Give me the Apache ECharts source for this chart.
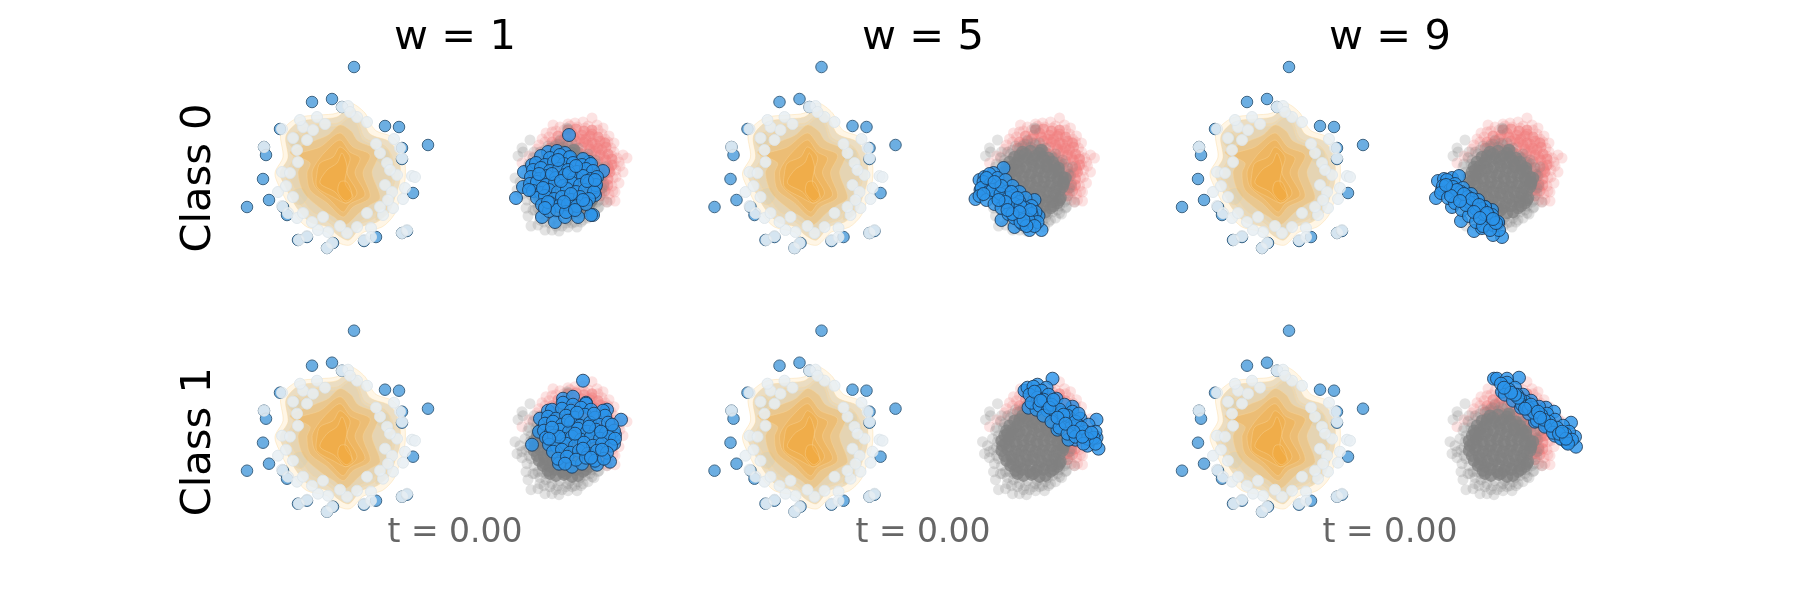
<!DOCTYPE html>
<html>
<head>
<meta charset="utf-8">
<style>html,body{margin:0;background:#fff}#main{width:1800px;height:600px}</style>
<script src="https://cdn.jsdelivr.net/npm/echarts@6/dist/echarts.min.js"></script>
</head>
<body>
<div id="main"></div>
<script>
var weights = ['w = 1', 'w = 5', 'w = 9'];
var classes = ['Class 0', 'Class 1'];
var timeLabel = 't = 0.00';

// left blob, same in all panels
var noiseBlue = [[154,203],[112,168],[132,171],[185,144],[199,143],[228,125],[80,141],[64,123],[66,115],[63,91],[69,70],[47,63],[83,63],[87,55],[98,30],[107,33],[127,22],[133,27],[164,29],[176,33],[202,37],[207,39],[213,77],[202,122],[202,111],[142,163]];
var noisePale = [[142,163],[148,164],[117,153],[167,148],[157,153],[82,141],[103,143],[113,140],[93,132],[194,131],[200,122],[64,123],[202,112],[82,98],[197,95],[212,94],[215,93],[205,82],[78,78],[203,71],[82,64],[193,62],[88,57],[97,52],[183,55],[171,42],[107,34],[128,38],[118,40],[99,30],[132,27],[127,22],[164,30],[171,33],[202,37],[207,40],[107,130],[97,120],[90,97],[93,73],[103,57],[123,53],[180,117],[187,107],[180,63],[167,57],[157,43],[147,37],[190,100],[185,85],[100,150],[125,146],[150,158],[176,126],[192,78],[86,84],[98,108],[112,48],[140,44],[188,70]];
var densityRings = [
  [[150,167],[165,157],[175,140],[194,132],[204,113],[205,90],[200,72],[194,55],[182,43],[164,38],[150,25],[137,28],[127,38],[107,43],[93,58],[80,82],[75,97],[83,113],[81,137],[97,152],[120,155],[137,157]],
  [[150,162],[161,153],[170,136],[190,128],[199,112],[200,90],[195,73],[189,58],[177,48],[161,43],[149,30],[139,34],[128,43],[110,48],[97,62],[85,84],[80,97],[88,112],[86,134],[99,148],[120,151],[137,153]],
  [[150,155],[158,148],[165,132],[185,124],[193,111],[195,90],[189,74],[183,60],[173,51],[160,46],[148,36],[138,40],[128,48],[112,54],[100,66],[89,85],[86,97],[93,111],[92,130],[103,142],[122,146],[138,147]],
  [[150,152],[157,145],[163,130],[182,122],[190,110],[192,90],[186,76],[180,62],[170,54],[158,48],[148,40],[138,45],[128,52],[113,58],[103,70],[92,87],[90,98],[97,110],[97,128],[107,138],[123,143],[138,144]],
  [[94,80],[103,82],[108,73],[101,65],[93,69]],
  [[178,122],[188,120],[190,110],[182,106],[175,112]],
  [[88,134],[96,138],[102,130],[95,122],[89,126]],
  [[178,60],[186,64],[184,54],[176,50]],
  [[140,145],[151,139],[158,129],[180,119],[176,108],[172,97],[180,72],[170,65],[159,57],[145,45],[134,53],[124,59],[104,77],[98,97],[102,108],[90,118],[114,129],[128,135]],
  [[140,137],[153,123],[170,115],[163,97],[170,73],[153,63],[143,53],[127,67],[110,80],[107,97],[110,107],[97,115],[120,123]],
  [[140,130],[150,118],[160,112],[155,97],[165,75],[150,66],[143,58],[130,70],[115,83],[112,97],[115,105],[125,118]],
  [[140,123],[150,113],[147,97],[157,77],[147,67],[133,73],[117,83],[117,97],[120,107],[133,113]],
  [[142,117],[147,103],[145,87],[153,73],[145,67],[135,78],[120,87],[127,100],[137,107]],
  [[147,88],[152,74],[146,69],[138,78],[140,88]]
];
var ringFills = ['rgba(255,238,210,0.55)','rgba(222,205,170,0.6)','rgba(222,205,170,0.3)','rgba(222,200,160,0.25)','rgba(215,205,175,0.4)','rgba(215,205,175,0.4)','rgba(215,205,175,0.4)','rgba(215,205,175,0.4)','rgba(245,166,50,0.28)','rgba(245,166,50,0.28)','rgba(245,166,50,0.28)','rgba(245,166,50,0.28)','rgba(245,166,50,0.28)','rgba(245,166,50,0.28)'];

// right blob background, same in all panels
var redCore = [[368,140],[376,141],[384,139],[392,140],[358,134],[366,135],[374,133],[382,135],[390,134],[398,133],[352,128],[360,129],[368,127],[376,129],[384,128],[392,127],[400,129],[405,127],[350,122],[358,123],[366,121],[374,122],[382,123],[390,121],[398,122],[406,123],[352,116],[362,117],[372,115],[382,116],[392,117],[400,115],[408,116],[380,110],[390,111],[398,109],[406,110],[412,111],[384,104],[392,105],[400,103],[408,104],[412,105],[392,98],[400,99],[406,97],[410,98],[396,92],[402,93],[408,91],[398,86],[404,87],[408,85],[400,80],[405,79],[400,74],[372,137],[380,131],[388,125],[396,119],[404,113],[394,107],[403,96],[404,83],[386,131],[395,126],[402,120],[364,131],[356,126],[378,118],[387,113],[409,101],[400,90],[397,79],[392,136]];
var redOuter = [[392,152],[353,145],[375,147],[403,142],[346,137],[337,121],[322,107],[423,115],[427,112],[423,98],[419,87],[415,69],[415,78],[407,68],[383,148],[360,143],[368,146],[397,145],[409,134],[414,127],[345,128],[341,118],[333,113],[414,118],[419,108],[416,100],[413,92],[412,84],[409,76],[404,70],[411,122],[408,128],[402,136],[352,138],[342,131],[329,114],[345,112],[388,144],[377,143],[364,140],[420,104],[417,112],[398,140],[356,139],[405,131],[412,114],[416,93],[410,70],[339,125],[349,133],[385,142],[414,105],[413,79],[370,144]];
var grayCore = [[355,118],[363,119],[372,117],[347,113],[352,114],[360,112],[368,114],[375,113],[381,112],[342,108],[349,107],[356,109],[364,108],[371,107],[378,109],[385,108],[339,103],[345,104],[352,102],[359,103],[366,104],[373,102],[380,103],[387,104],[391,102],[337,98],[343,97],[350,99],[357,98],[364,97],[371,99],[378,98],[385,97],[391,99],[334,93],[341,94],[347,92],[355,93],[362,94],[369,92],[376,93],[383,94],[390,92],[395,93],[335,88],[342,87],[349,89],[356,88],[363,87],[370,89],[377,88],[384,87],[391,89],[396,88],[334,83],[340,84],[348,82],[354,83],[361,84],[368,82],[375,83],[382,84],[389,82],[395,83],[337,78],[344,77],[351,79],[358,78],[365,77],[372,79],[379,78],[386,77],[392,79],[339,73],[346,74],[353,72],[360,73],[367,74],[374,72],[381,73],[388,74],[393,72],[343,68],[350,67],[357,69],[364,68],[371,67],[378,69],[385,68],[390,67],[348,63],[355,64],[362,62],[369,63],[376,64],[383,62],[356,58],[364,59],[372,57],[378,58],[351,110],[366,111],[379,105],[345,100],[388,100],[338,90],[396,86],[345,70],[386,64],[366,60],[358,116],[374,120],[340,100],[398,92],[392,70],[350,60]];
var grayOuter = [[330,130],[318,114],[322,122],[323,118],[315,92],[317,80],[328,54],[331,44],[345,40],[359,39],[368,43],[377,43],[367,142],[368,141],[405,103],[399,63],[407,68],[392,57],[381,48],[350,47],[340,50],[335,60],[327,70],[322,82],[320,88],[325,95],[328,103],[333,112],[340,118],[348,124],[358,126],[368,125],[378,122],[388,116],[395,110],[400,102],[403,94],[404,85],[402,77],[399,70],[392,64],[385,58],[378,52],[368,50],[358,48],[346,54],[338,62],[331,75],[326,84],[330,92],[336,106],[343,116],[352,50],[362,44],[372,47],[352,122],[363,123],[373,120],[384,114],[392,108],[398,62],[388,52],[322,76],[326,62],[338,45],[352,40],[329,86],[331,98],[337,110],[345,120],[355,124],[366,127],[376,119],[386,112],[396,106],[401,96],[402,82],[397,68],[390,60],[380,56],[370,53],[360,53],[350,56],[342,62],[334,68],[329,78],[333,60],[344,48],[356,44],[366,47],[383,50],[394,56],[340,56],[375,48],[346,60],[329,106],[334,118],[360,130],[372,127]];

// blue samples, one list per panel
var blueW1C0 = [[369,135],[403,99],[316,72],[393,55],[391,55],[355,48],[342,53],[365,53],[378,53],[324,98],[323,83],[348,118],[357,119],[365,117],[369,112],[389,108],[395,75],[395,83],[332,105],[341,114],[350,112],[360,115],[370,113],[383,111],[336,107],[345,105],[354,108],[364,106],[373,107],[382,105],[391,106],[333,100],[341,102],[350,99],[359,101],[368,100],[377,98],[386,101],[393,99],[331,93],[339,91],[347,94],[356,92],[365,95],[374,92],[383,94],[391,91],[397,93],[330,86],[337,88],[346,85],[355,87],[363,84],[372,87],[380,85],[389,87],[396,85],[333,79],[341,77],[349,80],[358,78],[367,81],[376,78],[385,80],[394,78],[337,72],[345,74],[354,71],[362,73],[371,70],[380,73],[389,71],[342,65],[350,67],[359,64],[368,66],[377,64],[386,66],[349,59],[357,60],[366,58],[375,60],[352,96],[361,89],[369,97],[343,82],[376,104],[387,89],[348,68],[371,76],[358,110],[339,96],[383,70],[364,68],[395,90],[329,80],[345,62]];
var blueW1C1 = [[383,153],[421,114],[332,89],[340,115],[339,102],[348,123],[363,135],[373,137],[386,131],[407,124],[410,72],[397,69],[372,67],[359,70],[382,70],[414,90],[415,99],[363,131],[373,129],[386,130],[352,124],[362,125],[371,123],[381,126],[391,124],[403,123],[348,117],[356,115],[366,118],[375,116],[385,119],[395,116],[405,118],[345,110],[353,112],[362,109],[371,111],[380,108],[390,111],[399,109],[408,111],[344,103],[351,101],[360,104],[369,102],[378,105],[387,102],[396,104],[406,101],[414,103],[346,96],[354,98],[363,95],[372,97],[381,94],[391,97],[400,95],[409,97],[415,95],[349,89],[357,87],[366,90],[375,88],[384,91],[393,88],[402,90],[411,88],[353,82],[362,84],[370,81],[379,83],[388,80],[397,83],[407,81],[358,75],[367,77],[376,74],[386,76],[395,73],[404,75],[368,113],[377,121],[359,97],[389,107],[401,102],[352,106],[383,85],[365,70],[391,76],[412,109],[375,100],[349,95],[394,120],[402,84]];
var blueW5C0 = [[308,71],[336,102],[312,90],[326,97],[317,93],[313,80],[374,40],[362,40],[347,43],[334,50],[355,46],[367,70],[371,54],[367,51],[322,96],[330,92],[338,90],[345,84],[352,78],[358,72],[364,64],[368,58],[316,88],[323,86],[331,82],[339,78],[346,74],[352,68],[358,62],[364,56],[370,48],[314,82],[321,78],[329,74],[336,70],[343,66],[349,60],[355,56],[361,50],[367,44],[312,74],[319,70],[327,66],[334,62],[341,56],[347,52],[353,48],[359,44],[325,80],[333,76],[341,72],[347,66],[353,64],[319,92],[334,84],[344,78],[327,88],[338,68],[350,72],[356,50],[363,60],[345,56],[331,70],[316,76],[352,58],[340,60]];
var blueW9C0 = [[301,72],[303,89],[309,91],[317,92],[324,94],[307,80],[367,33],[358,35],[339,39],[326,49],[347,42],[360,45],[363,47],[357,60],[350,63],[317,63],[312,90],[320,86],[328,82],[336,76],[343,70],[350,63],[357,55],[363,48],[308,84],[315,80],[323,76],[330,70],[337,64],[344,58],[351,52],[358,45],[364,40],[306,77],[313,72],[320,67],[327,60],[334,54],[341,48],[348,44],[355,40],[318,83],[326,78],[333,73],[340,67],[347,61],[354,54],[361,47],[334,68],[341,61],[349,56],[331,65],[322,80],[329,76],[337,71],[344,65],[352,57],[358,51],[339,58],[345,52],[316,74],[325,69],[311,85]];
var blueW5C1 = [[385,155],[357,143],[360,146],[370,149],[379,146],[361,126],[369,124],[429,114],[431,85],[420,88],[408,94],[401,94],[390,104],[429,96],[423,94],[405,127],[366,147],[374,143],[381,139],[389,135],[397,129],[405,122],[413,115],[421,109],[428,102],[362,139],[370,136],[378,131],[386,127],[394,121],[402,116],[410,109],[418,102],[426,96],[364,131],[372,128],[380,123],[388,118],[396,113],[404,107],[412,101],[420,95],[428,90],[376,118],[384,112],[392,106],[400,100],[408,97],[416,90],[376,134],[384,129],[392,124],[400,118],[396,119],[408,112],[414,106],[367,142],[373,133],[382,126],[390,116],[398,110],[406,102],[415,97],[424,101],[411,120],[386,134]];
var blueW9C1 = [[384,156],[359,155],[362,155],[372,155],[367,142],[441,87],[436,111],[432,91],[420,98],[412,108],[400,112],[411,126],[419,122],[440,97],[427,95],[372,151],[380,146],[388,139],[396,133],[404,127],[412,120],[420,114],[428,108],[434,102],[366,150],[374,144],[382,139],[390,132],[398,126],[406,119],[414,112],[422,106],[430,100],[437,94],[370,139],[378,133],[386,126],[394,120],[402,113],[410,107],[418,101],[426,95],[433,90],[385,135],[387,129],[392,127],[394,125],[399,121],[383,136],[396,129],[380,139],[376,141],[403,122],[409,114],[416,108],[424,100],[431,95],[390,125],[405,116],[369,146],[427,102]];
var bluePanels = [[blueW1C0, blueW5C0, blueW9C0], [blueW1C1, blueW5C1, blueW9C1]];

var chart = echarts.init(document.getElementById('main'), null, { renderer: 'canvas' });

var PANEL_W = 467.5, ROW_STEP = 263.7, PANEL_H = 230;
var grids = [], xAxes = [], yAxes = [], series = [];

function dots(i, data, size, color, opacity, border, borderW) {
  return {
    type: 'scatter', xAxisIndex: i, yAxisIndex: i, data: data, symbolSize: size,
    silent: true, clip: false,
    itemStyle: { color: color, opacity: opacity, borderColor: border || color, borderWidth: borderW || 0 }
  };
}

function densitySeries(i) {
  return {
    type: 'custom', xAxisIndex: i, yAxisIndex: i, silent: true, clip: false,
    data: densityRings.map(function (r, k) { return [k]; }),
    renderItem: function (params, api) {
      var ring = densityRings[params.dataIndex];
      return {
        type: 'polygon',
        shape: { points: ring.map(function (p) { return api.coord(p); }), smooth: 0.3 },
        style: { fill: ringFills[params.dataIndex], stroke: 'rgba(250,215,155,0.4)', lineWidth: 1 }
      };
    }
  };
}

classes.forEach(function (c, row) {
  weights.forEach(function (w, col) {
    var i = grids.length;
    grids.push({ left: 200 + col * PANEL_W, top: 40 + row * ROW_STEP, width: PANEL_W, height: PANEL_H });
    xAxes.push({ gridIndex: i, type: 'value', min: 0, max: PANEL_W, show: false });
    yAxes.push({ gridIndex: i, type: 'value', min: 0, max: PANEL_H, show: false });
    series.push(dots(i, noiseBlue, 11.5, '#6caee2', 1, '#3f6685', 1));
    series.push(dots(i, noisePale, 11, '#e8eff3', 0.85, '#dde5ea', 1));
    series.push(densitySeries(i));
    series.push(dots(i, redOuter, 11, '#f08080', 0.22));
    series.push(dots(i, redCore, 11, '#f08080', 0.55));
    series.push(dots(i, grayOuter, 11, '#808080', 0.22));
    series.push(dots(i, grayCore, 12.5, '#808080', 0.75));
    series.push(dots(i, bluePanels[row][col], 13, '#2b94ea', 0.82, '#1b3550', 1));
  });
});

var titles = [];
[450, 918, 1385].forEach(function (x, k) {
  titles.push({
    text: weights[k], left: x, top: 33, textAlign: 'center', textVerticalAlign: 'middle',
    textStyle: { fontFamily: 'DejaVu Sans', fontSize: 41.6, fontWeight: 'normal', color: '#000' }
  });
  titles.push({
    text: timeLabel, left: x, top: 528, textAlign: 'center', textVerticalAlign: 'middle',
    textStyle: { fontFamily: 'DejaVu Sans', fontSize: 33, fontWeight: 'normal', color: '#666' }
  });
});

var classLabels = classes.map(function (c, k) {
  return {
    type: 'text', x: 199, y: 178 + k * ROW_STEP, rotation: Math.PI / 2,
    style: { text: c, fontFamily: 'DejaVu Sans', fontSize: 41.6, fill: '#000', align: 'center', verticalAlign: 'middle' }
  };
});

chart.setOption({
  animation: false,
  backgroundColor: '#fff',
  title: titles,
  grid: grids,
  xAxis: xAxes,
  yAxis: yAxes,
  series: series,
  graphic: classLabels
});

window.addEventListener('resize', chart.resize);
</script>
</body>
</html>
